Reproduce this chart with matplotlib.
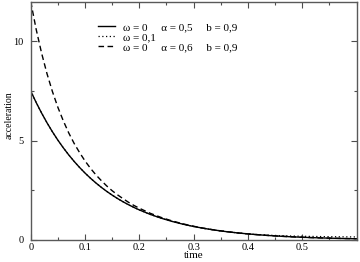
import numpy as np
import matplotlib
matplotlib.use('Agg')
import matplotlib.pyplot as plt
from matplotlib.ticker import MultipleLocator

plt.rcParams['font.family'] = ['Liberation Serif', 'DejaVu Serif']

# time samples
t = [0.00, 0.01, 0.02, 0.03, 0.04, 0.05, 0.06, 0.07, 0.08, 0.09,
     0.10, 0.11, 0.12, 0.13, 0.14, 0.15, 0.16, 0.17, 0.18, 0.19,
     0.20, 0.22, 0.24, 0.26, 0.28, 0.30, 0.32, 0.34, 0.36, 0.38,
     0.40, 0.42, 0.44, 0.46, 0.48, 0.50, 0.52, 0.54, 0.56, 0.58, 0.60]

# omega=0, alpha=0.5, b=0.9
acc_a05 = [7.500, 6.923, 6.391, 5.900, 5.446, 5.027, 4.641, 4.284, 3.955, 3.651,
           3.370, 3.111, 2.872, 2.651, 2.447, 2.259, 2.085, 1.925, 1.777, 1.640,
           1.514, 1.290, 1.100, 0.937, 0.798, 0.680, 0.580, 0.494, 0.421, 0.359,
           0.306, 0.261, 0.222, 0.189, 0.161, 0.137, 0.117, 0.100, 0.085, 0.072, 0.062]

# omega=0.1
acc_w01 = [7.500, 6.923, 6.391, 5.900, 5.446, 5.027, 4.641, 4.284, 3.955, 3.651,
           3.370, 3.111, 2.872, 2.651, 2.447, 2.259, 2.085, 1.925, 1.777, 1.640,
           1.514, 1.290, 1.100, 0.937, 0.798, 0.680, 0.580, 0.494, 0.421, 0.360,
           0.310, 0.270, 0.240, 0.218, 0.200, 0.188, 0.178, 0.170, 0.164, 0.158, 0.153]

# omega=0, alpha=0.6, b=0.9
acc_a06 = [12.00, 10.61, 9.41, 8.37, 7.47, 6.68, 6.00, 5.39, 4.86, 4.40,
           3.98, 3.61, 3.28, 2.99, 2.72, 2.48, 2.27, 2.08, 1.90, 1.74,
           1.60, 1.345, 1.137, 0.962, 0.815, 0.691, 0.585, 0.497, 0.423, 0.360,
           0.307, 0.261, 0.222, 0.189, 0.161, 0.137, 0.117, 0.100, 0.085, 0.072, 0.062]

labels = ['\u03c9 = 0     \u03b1 = 0,5     b = 0,9',
          '\u03c9 = 0,1',
          '\u03c9 = 0     \u03b1 = 0,6     b = 0,9']
x_ticks = [0, 0.1, 0.2, 0.3, 0.4, 0.5]
x_ticklabels = ['0', '0.1', '0.2', '0.3', '0.4', '0.5']
y_ticks = [0, 5, 10]

fig = plt.figure(figsize=(3.6, 2.62), dpi=100)
ax = fig.add_axes([0.0853, 0.084, 0.905, 0.910])

ax.plot(t, acc_a05, color='black', lw=1.0, ls='-', label=labels[0])
ax.plot(t, acc_w01, color='black', lw=0.9, ls=(0, (1, 2)), label=labels[1])
ax.plot(t, acc_a06, color='black', lw=1.0, ls=(0, (4, 2.5)), label=labels[2])

ax.set_xlim(0, 0.6)
ax.set_ylim(0, 12)
ax.set_xticks(x_ticks)
ax.set_xticklabels(x_ticklabels)
ax.set_yticks(y_ticks)
ax.xaxis.set_minor_locator(MultipleLocator(0.05))
ax.yaxis.set_minor_locator(MultipleLocator(2.5))
ax.tick_params(which='both', direction='in', top=True, right=True,
               labelsize=7.5, color='0.3', width=0.8)
ax.tick_params(which='major', length=4)
ax.tick_params(which='minor', length=2.2)
ax.tick_params(axis='x', pad=2.5)
ax.tick_params(axis='y', pad=5)
for sp in ax.spines.values():
    sp.set_color('0.35')
    sp.set_linewidth(1.0)

ax.set_xlabel('time', fontsize=8)
ax.xaxis.set_label_coords(0.5, -0.048)
ax.xaxis.label.set_va('top')
ax.set_ylabel('acceleration', fontsize=7)
ax.yaxis.set_label_coords(-0.052, 0.524)

ax.legend(loc='upper left', bbox_to_anchor=(0.2066, 0.912), frameon=False,
          fontsize=8, handlelength=1.55, handletextpad=0.7,
          labelspacing=0.0, borderpad=0, borderaxespad=0)

fig.savefig('out.png', dpi=100)
